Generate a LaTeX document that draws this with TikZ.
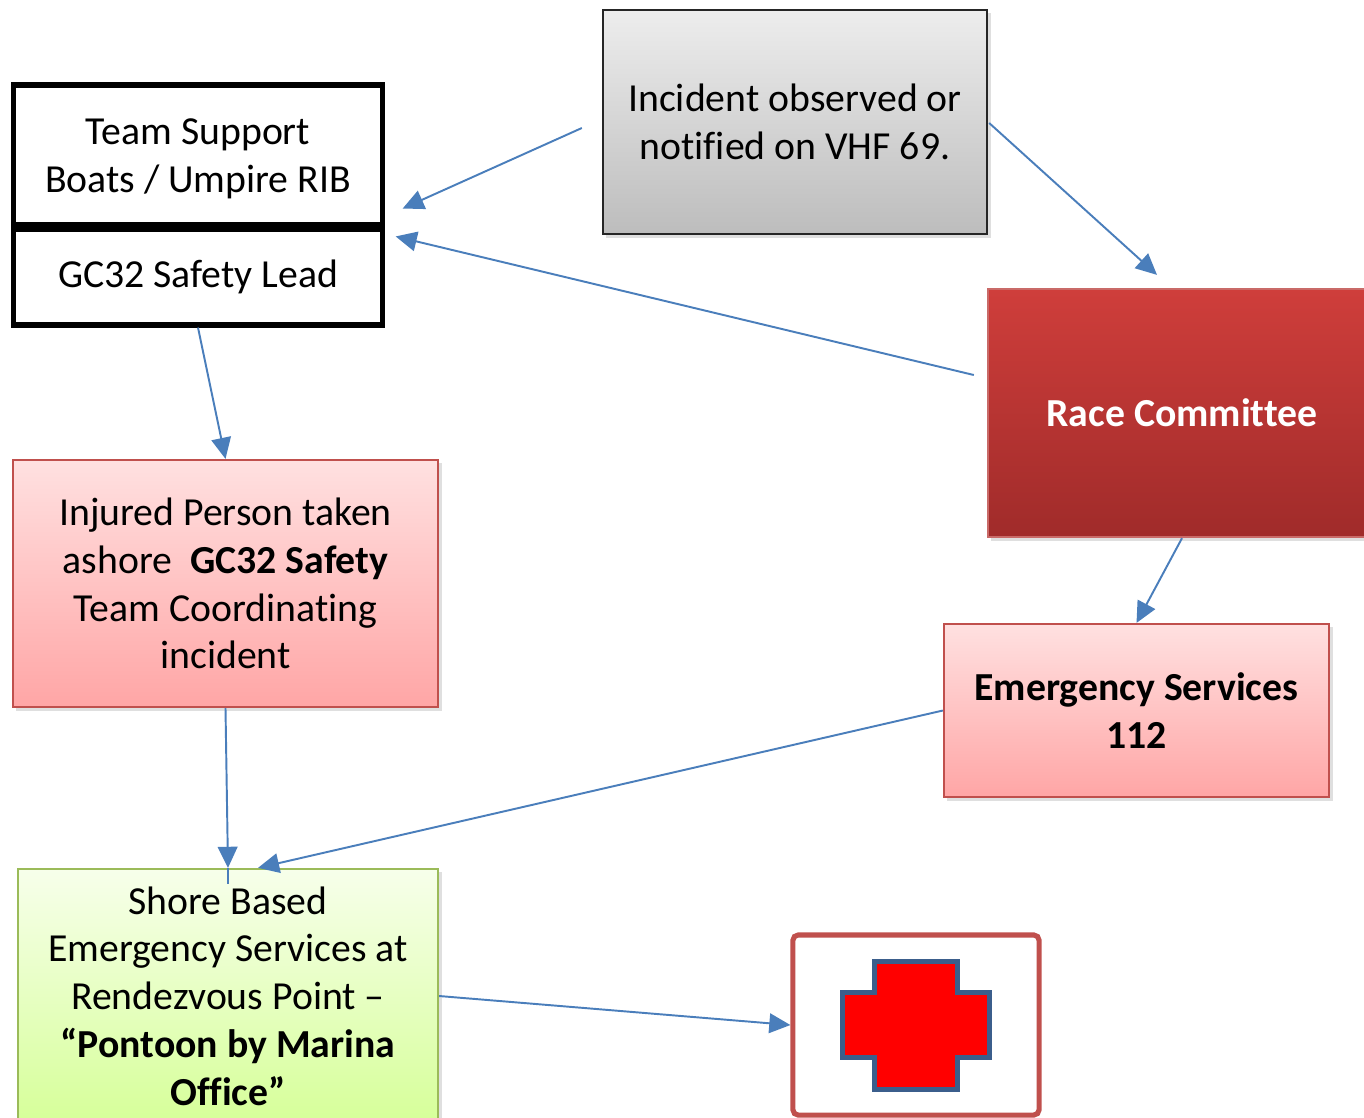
\documentclass[tikz,border=0pt]{standalone}
\usepackage{fontspec}
\setmainfont{Carlito}[Ligatures=CommonOff]
\usepackage{xcolor}
\usetikzlibrary{arrows.meta,shadows,calc}
\definecolor{arrowblue}{HTML}{4A7EBB}
\definecolor{redline}{HTML}{C0504D}
\definecolor{greenline}{HTML}{9BBB59}
\definecolor{crossblue}{HTML}{3B5E8C}
\definecolor{racetop}{HTML}{CF3E3B}
\definecolor{racebot}{HTML}{A02B2A}
\tikzset{
  box/.style={rectangle,align=center,inner sep=0pt,font=\fontsize{11.3pt}{13.6pt}\selectfont},
  plain/.style={box,draw=black,line width=1.45pt,fill=white},
  shade/.style={drop shadow={shadow xshift=0.035cm,shadow yshift=-0.035cm,opacity=0.25}},
  grey/.style={box,shade,draw=black!85,line width=0.6pt,top color=black!7,bottom color=black!26},
  dark/.style={box,shade,draw=redline!85,line width=0.6pt,top color=racetop,bottom color=racebot,text=white,font=\fontsize{11.3pt}{13.6pt}\selectfont\bfseries},
  pink/.style={box,shade,draw=redline,line width=0.6pt,top color=red!12,bottom color=red!35},
  green/.style={box,shade,draw=greenline,line width=0.6pt,top color=green!40!yellow!8,bottom color=green!40!yellow!40},
  flow/.style={color=arrowblue,line width=0.55pt,-{Triangle[length=6pt,width=5.6pt]}}
}
\begin{document}
\begin{tikzpicture}[x=0.01cm,y=-0.01cm]
  \useasboundingbox (0,0) rectangle (1364,1117);
  % boxes
  \node[plain,minimum width=3.68cm,minimum height=1.39cm] (team) at (198,154.5) {\rule{0pt}{10pt}Team Support\\Boats / Umpire RIB};
  \node[plain,minimum width=3.68cm,minimum height=0.96cm] (lead) at (198,277) {GC32 Safety Lead};
  \node[grey,minimum width=3.84cm,minimum height=2.24cm] (incident) at (795,122) {Incident observed or\\notified on VHF 69.};
  \node[dark,minimum width=3.88cm,minimum height=2.48cm] (race) at (1182,413) {Race Committee};
  \node[pink,minimum width=4.25cm,minimum height=2.47cm] (injured) at (225.5,583.5) {Injured Person taken\\ashore\ \ \textbf{GC32 Safety}\\Team Coordinating\\incident};
  \node[pink,minimum width=3.85cm,minimum height=1.73cm,font=\fontsize{11.3pt}{13.6pt}\selectfont\bfseries] (emerg) at (1136.5,710.5) {Emergency Services\\112};
  \node[green,minimum width=4.20cm,minimum height=2.54cm] (shore) at (228,996) {Shore Based\\Emergency Services at\\Rendezvous Point --\\\textbf{“Pontoon by Marina}\\\textbf{Office”}};
  \node[draw=redline,line width=1.45pt,rounded corners=1.5pt,fill=white,minimum width=2.46cm,minimum height=1.80cm] (aid) at (916,1025) {};
  % red cross
  \draw[crossblue,fill=red,line width=1.42pt]
    (874,961) -- (957,961) -- (957,992) -- (989,992) -- (989,1057) -- (957,1057)
    -- (957,1089) -- (874,1089) -- (874,1057) -- (842,1057) -- (842,992) -- (874,992) -- cycle;
  % connectors
  \path[flow]
    ($(incident.west)+(-20,6)$) edge ($(team.east)+(18,54)$)
    ($(incident.east)+(1,1)$) edge ($(race.north)+(-25,-13)$)
    ($(race.west)+(-13,-38)$) edge ($(lead.north east)+(11,10)$)
    (lead.south) edge (injured.north)
    (race.south) edge (emerg.north)
    (emerg.west) edge ($(shore.north)+(30,0)$)
    (injured.south) edge (shore.north)
    (shore.east) edge (aid.west);
  \draw[arrowblue,line width=0.55pt] (shore.north) -- ++(0,16);
\end{tikzpicture}
\end{document}
